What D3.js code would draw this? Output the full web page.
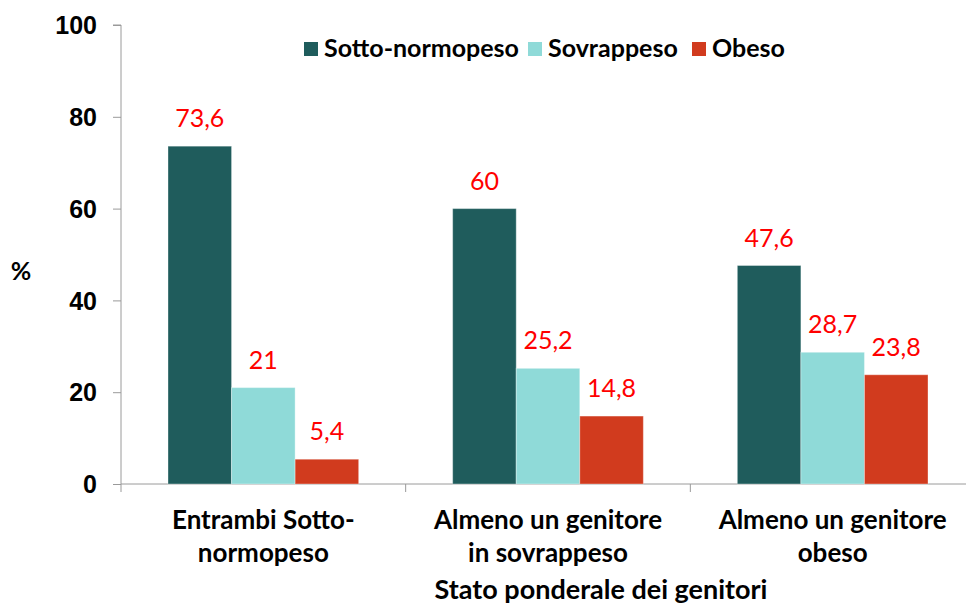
<!DOCTYPE html>
<html lang="it">
<head>
    <meta charset="UTF-8">
    <title>Stato ponderale dei genitori</title>
    <script src="https://d3js.org/d3.v7.min.js"></script>
    <style>
        body { margin: 0; background: #fff; }
        svg { font-family: Lato, "Open Sans", sans-serif; }
        .axis path, .axis line { stroke: #9a9a9a; }
        .tick-label { font-weight: bold; font-size: 25px; fill: #000; }
    </style>
</head>
<body>
<div id="chart"></div>
<script>
    // data
    const categories = [["Entrambi Sotto-", "normopeso"], ["Almeno un genitore", "in sovrappeso"], ["Almeno un genitore", "obeso"]];
    const series = ["Sotto-normopeso", "Sovrappeso", "Obeso"];
    const values = [
        [73.6, 21, 5.4],
        [60, 25.2, 14.8],
        [47.6, 28.7, 23.8]
    ];
    const valueLabels = [
        ["73,6", "21", "5,4"],
        ["60", "25,2", "14,8"],
        ["47,6", "28,7", "23,8"]
    ];
    const yTicks = [0, 20, 40, 60, 80, 100];
    const colors = ["#1f5c5c", "#8fdad8", "#d13b1e"];

    const width = 966, height = 606;
    const svg = d3.select('#chart').append('svg')
        .attr('width', width)
        .attr('height', height);

    const x0 = d3.scaleBand()
        .domain(d3.range(categories.length))
        .range([121, 975])
        .padding(0);
    const x1 = d3.scaleBand()
        .domain(d3.range(series.length))
        .range([47, x0.bandwidth() - 47])
        .padding(0);
    const y = d3.scaleLinear().domain([0, 100]).range([484, 25]);

    // y axis
    const yAxis = svg.append('g')
        .attr('class', 'axis')
        .attr('transform', 'translate(121,0)')
        .call(d3.axisLeft(y).tickValues(yTicks).tickSize(8).tickFormat(d3.format('d')));
    yAxis.select('.domain').attr('d', `M0,${y(100)}H-8M0,${y(100)}V${y(0)}`);
    yAxis.selectAll('text').attr('class', 'tick-label').attr('x', -24).attr('dy', '0.35em');

    // x axis
    const xg = svg.append('g').attr('class', 'axis');
    xg.append('line')
        .attr('x1', 121).attr('x2', width)
        .attr('y1', y(0)).attr('y2', y(0));
    xg.selectAll('.sep')
        .data(d3.range(categories.length + 1))
        .enter().append('line')
        .attr('x1', i => x0(0) + i * x0.bandwidth())
        .attr('x2', i => x0(0) + i * x0.bandwidth())
        .attr('y1', y(0)).attr('y2', y(0) + 8);

    // bars
    const groups = svg.append('g')
        .selectAll('g')
        .data(values)
        .enter().append('g')
        .attr('transform', (d, i) => `translate(${x0(i)},0)`);

    groups.selectAll('rect')
        .data(d => d)
        .enter().append('rect')
        .attr('x', (d, j) => x1(j))
        .attr('width', x1.bandwidth())
        .attr('y', d => y(d))
        .attr('height', d => y(0) - y(d))
        .attr('fill', (d, j) => colors[j])
        .attr('stroke', 'rgba(255,255,255,0.35)')
        .attr('stroke-width', 1);

    groups.selectAll('.val')
        .data((d, i) => d.map((v, j) => ({ v, label: valueLabels[i][j] })))
        .enter().append('text')
        .attr('x', (d, j) => x1(j) + x1.bandwidth() / 2)
        .attr('y', d => y(d.v) - 19)
        .attr('text-anchor', 'middle')
        .attr('fill', '#ff0000')
        .attr('font-size', 25)
        .text(d => d.label);

    // category labels
    categories.forEach((lines, i) => {
        const t = svg.append('text')
            .attr('x', x0(i) + x0.bandwidth() / 2)
            .attr('y', 529)
            .attr('text-anchor', 'middle')
            .attr('font-weight', 'bold')
            .attr('font-size', 26);
        lines.forEach((l, k) => {
            t.append('tspan')
                .attr('x', x0(i) + x0.bandwidth() / 2)
                .attr('dy', k === 0 ? 0 : 33)
                .text(l);
        });
    });

    // axis titles
    svg.append('text')
        .attr('x', 601).attr('y', 599)
        .attr('text-anchor', 'middle')
        .attr('font-weight', 'bold')
        .attr('font-size', 27)
        .text('Stato ponderale dei genitori');
    svg.append('text')
        .attr('x', 21).attr('y', 280)
        .attr('text-anchor', 'middle')
        .attr('font-weight', 'bold')
        .attr('font-size', 25)
        .text('%');

    // legend
    const legendX = [304, 528, 692];
    const legend = svg.append('g')
        .selectAll('g')
        .data(series)
        .enter().append('g')
        .attr('transform', (d, i) => `translate(${legendX[i]},42)`);
    legend.append('rect')
        .attr('width', 14).attr('height', 14)
        .attr('fill', (d, i) => colors[i]);
    legend.append('text')
        .attr('x', 20).attr('y', 15)
        .attr('font-weight', 'bold')
        .attr('font-size', 25)
        .text(d => d);
</script>
</body>
</html>
